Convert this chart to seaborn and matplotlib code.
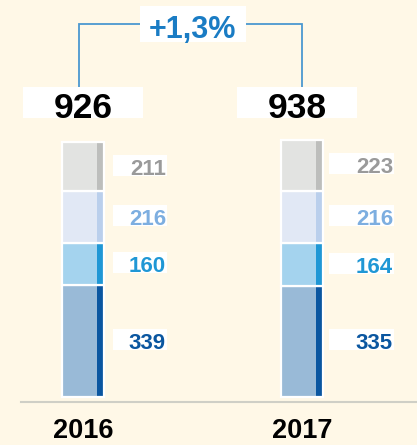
import matplotlib
matplotlib.use("Agg")
import matplotlib.pyplot as plt
from matplotlib.patches import Rectangle
import seaborn as sns
import numpy as np
import pandas as pd

# ---------------- data ----------------
years = ["2016", "2017"]
values_2016 = [339, 160, 216, 211]   # segments bottom -> top
values_2017 = [335, 164, 216, 223]
totals = [926, 938]
growth_label = "+1,3%"

# ---------------- style ----------------
fill_colors = ["#99BAD7", "#A4D3EE", "#E1E8F5", "#E2E3E1"]
strip_colors = ["#0A56A0", "#1F97D5", "#BACFEC", "#BDBEBC"]
text_colors = ["#0A56A0", "#1F97D5", "#7DAEE0", "#9A9A9A"]
bg = "#FFF8E7"
bracket_color = "#4B98D0"
growth_color = "#1A7CC4"

sns.set_theme(style="white")
plt.rcParams["font.family"] = ["Liberation Sans", "DejaVu Sans"]

W, H = 417, 445
fig = plt.figure(figsize=(W / 100, H / 100), dpi=100, facecolor=bg)
AX_L, AX_B = 21, 43
ax = fig.add_axes([AX_L / W, AX_B / H, (W - AX_L) / W, (H - AX_B) / H])
ax.set_facecolor(bg)

# the reference compresses taller values: a power scale on the value axis
P = 0.815


def fwd(v):
    v = np.asarray(v, dtype=float)
    return np.sign(v) * np.abs(v) ** P


def inv(t):
    t = np.asarray(t, dtype=float)
    return np.sign(t) * np.abs(t) ** (1 / P)


ax.set_yscale("function", functions=(fwd, inv))

Y0 = 397                       # pixel row (from top) of value 0
A = 255.5 / float(fwd(930))    # px per transformed unit
KX = 219.0                     # px per category step
X0 = 83                        # pixel column of first category centre


def to_row(v):
    return Y0 - A * float(fwd(v))


def from_row(row):
    return float(inv((Y0 - row) / A))


def xcol(col):
    return (col - X0) / KX


xs = np.arange(len(years), dtype=float)
bar_w_px, strip_w_px = 42, 7
bw = bar_w_px / KX
sw = strip_w_px / KX
strip_off = (bar_w_px - strip_w_px) / 2 / KX

series = [values_2016, values_2017]
bottoms = np.zeros(len(years))
for i in range(len(values_2016)):
    vals = np.array([s[i] for s in series], dtype=float)
    df = pd.DataFrame({"x": xs, "v": vals})
    df_s = pd.DataFrame({"x": xs + strip_off, "v": vals})
    sns.barplot(data=df, x="x", y="v", native_scale=True, width=bw,
                color=fill_colors[i], saturation=1, bottom=bottoms,
                linewidth=0, errorbar=None, ax=ax)
    sns.barplot(data=df_s, x="x", y="v", native_scale=True, width=sw,
                color=strip_colors[i], saturation=1, bottom=bottoms,
                linewidth=0, errorbar=None, ax=ax)
    sns.barplot(data=df, x="x", y="v", native_scale=True, width=bw,
                color="white", saturation=1, fill=False, bottom=bottoms,
                linewidth=1.6, errorbar=None, ax=ax)
    bottoms = bottoms + vals

# segment labels
label_left_px = [113, 329]
label_right_px = [167, 394]
label_cap_px = 16
for j, vals in enumerate(series):
    cum = 0
    for i, v in enumerate(vals):
        row_c = (to_row(cum) + to_row(cum + v)) / 2
        row_base = row_c + label_cap_px / 2
        xl = xcol(label_left_px[j] - j * KX) + xs[j]
        xr = xcol(label_right_px[j] - j * KX) + xs[j]
        yb = from_row(row_base + 1)
        yt = from_row(row_base - 20)
        ax.add_patch(Rectangle((xl, yb), xr - xl, yt - yb,
                               facecolor="white", edgecolor="none", zorder=2))
        ax.text(xr - 1 / KX, from_row(row_base), str(v), ha="right",
                va="baseline", fontsize=16, fontweight="bold",
                color=text_colors[i], zorder=3)
        cum += v

# totals
total_dx_px = [0, -5]
tb = from_row(118)
tt = from_row(87)
for j, t in enumerate(totals):
    xc = xs[j] + total_dx_px[j] / KX
    ax.add_patch(Rectangle((xc - 60 / KX, tb), 120 / KX, tt - tb,
                           facecolor="white", edgecolor="none", zorder=2))
    ax.text(xc, tb, str(t), ha="center", va="baseline",
            fontsize=25.5, fontweight="bold", color="black", zorder=3)

# growth bracket
y_br = from_row(24)
x_l = xcol(79)
x_r = xcol(302)
ax.plot([x_l, x_l, x_r, x_r], [tt, y_br, y_br, tt],
        color=bracket_color, lw=1.3, solid_joinstyle="miter", zorder=1)
gb = from_row(42)
gt = from_row(6)
ax.add_patch(Rectangle((xcol(140), gb), (246 - 140) / KX, gt - gb,
                       facecolor="white", edgecolor="none", zorder=2))
ax.text(xcol(192.5), from_row(38), growth_label, ha="center", va="baseline",
        fontsize=22, fontweight="bold", color=growth_color, zorder=3)

# axes styling
ax.set_xlim(xcol(AX_L), xcol(W))
ax.set_ylim(from_row(H - AX_B), from_row(0))
ax.set_xticks(xs)
ax.set_xticklabels(years, fontsize=19.5, fontweight="bold", color="black")
ax.tick_params(axis="x", length=0, pad=11.5)
ax.set_yticks([])
ax.minorticks_off()
ax.set_xlabel("")
ax.set_ylabel("")
for side in ["top", "left", "right"]:
    ax.spines[side].set_visible(False)
ax.spines["bottom"].set_color("#CFCFC6")
ax.spines["bottom"].set_linewidth(1.5)

fig.savefig("out.png", dpi=100, facecolor=bg)
